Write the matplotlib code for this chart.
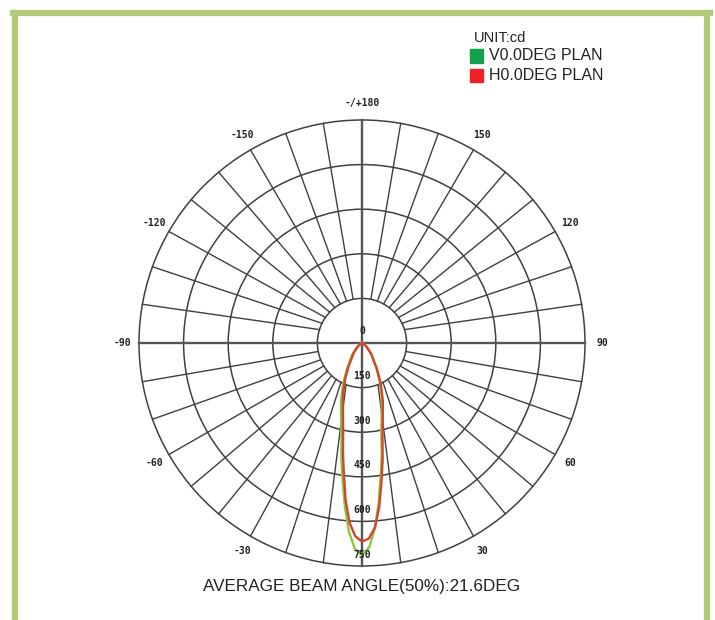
import numpy as np
import matplotlib.pyplot as plt
from matplotlib.patches import Circle, Rectangle
from matplotlib.lines import Line2D

# polar candela data, gamma measured from nadir (deg), values in cd
gamma = [0, 2, 4, 6, 8, 10, 12, 15, 20, 25, 30, 40, 50, 60, 90]
v_plan_left = [712, 692, 635, 552, 468, 398, 330, 270, 206, 150, 102, 51, 22, 8, 0]
v_plan_right = [712, 688, 625, 538, 452, 382, 312, 255, 195, 140, 96, 48, 21, 8, 0]
h_plan_left = [668, 650, 605, 530, 440, 370, 305, 248, 188, 135, 90, 43, 19, 7, 0]
h_plan_right = [668, 658, 622, 555, 470, 400, 332, 270, 205, 148, 100, 48, 21, 7, 0]

ring_values = [150, 300, 450, 600, 750]
ring_labels = ["150", "300", "450", "600", "750"]
angle_ticks = [180, -150, 150, -120, 120, -90, 90, -60, 60, -30, 30]
angle_labels = ["-/+180", "-150", "150", "-120", "120", "-90", "90", "-60", "60", "-30", "30"]
legend_names = ["V0.0DEG PLAN", "H0.0DEG PLAN"]
legend_colors = ["#12a14b", "#ec2227"]
curve_colors = ["#8dc63f", "#d4452d"]

W, H = 715, 620
CX, CY, RPX = 362, 343, 223
RMAX = ring_values[-1]
s = RPX / RMAX

fig = plt.figure(figsize=(W / 100, H / 100), dpi=100)
fig.patch.set_facecolor("white")
ax = fig.add_axes([0, 0, 1, 1])
ax.set_xlim(-CX / s, (W - CX) / s)
ax.set_ylim((CY - H) / s, CY / s)
ax.axis("off")

def fx(px):
    return px / W

def fy(py):
    return 1 - py / H

# frame
border = "#b2c979"
for xs, ys in [([15.5, 15.5], [H, 13]), ([13, 710], [13, 13]), ([707, 707], [13, H])]:
    fig.add_artist(Line2D([fx(x) for x in xs], [fy(y) for y in ys], color=border, lw=4.5))

grid = "#404040"
for r in ring_values:
    ax.add_patch(Circle((0, 0), r, fill=False, ec=grid, lw=1.1))
ax.plot([-RMAX, RMAX], [0, 0], color="#555555", lw=1.7)
ax.plot([0, 0], [-RMAX, RMAX], color="#555555", lw=1.7)

# spokes every 10 deg, bunched near the inner ring like the original
r0 = ring_values[0]
for sy in (1, -1):
    for sx in (1, -1):
        for th in range(10, 90, 10):
            if sy > 0:
                ph = 17.5 + (th - 10) * (78.5 - 17.5) / 70
            else:
                ph = 11 + 58 * ((th - 10) / 70) ** 0.85
            t, p = np.radians(th), np.radians(ph)
            ax.plot([sx * RMAX * np.cos(t), sx * r0 * np.cos(p)],
                    [sy * RMAX * np.sin(t), sy * r0 * np.sin(p)], color=grid, lw=1.0)

# curves
g = np.array(gamma, dtype=float)
full_g = np.radians(np.concatenate([-g[::-1], g[1:]]))
for left, right, col in [(v_plan_left, v_plan_right, curve_colors[0]),
                         (h_plan_left, h_plan_right, curve_colors[1])]:
    full_v = np.concatenate([np.array(left[::-1], float), np.array(right[1:], float)])
    ax.plot(full_v * np.sin(full_g), -full_v * np.cos(full_g), color=col, lw=1.7)

lab_font = dict(family="DejaVu Sans Mono", weight="bold", fontsize=7, color="#222222")
ax.text(0, 12 / s, "0", ha="center", va="center", **lab_font)
for v, lab in zip(ring_values, ring_labels):
    ax.text(0, -(v - 11.5 / s), lab, ha="center", va="center", **lab_font)
rl = 240 / s
for a, lab in zip(angle_ticks, angle_labels):
    ar = np.radians(a)
    ax.text(rl * np.sin(ar), -rl * np.cos(ar), lab, ha="center", va="center", **lab_font)

# legend
narrow = ["Liberation Sans Narrow", "Liberation Sans", "DejaVu Sans"]
fig.text(fx(474), fy(38), "UNIT:cd", family=narrow, fontsize=10.5, va="center", ha="left", color="#222222")
for i, (name, col) in enumerate(zip(legend_names, legend_colors)):
    yc = 56 + 19.5 * i
    fig.add_artist(Rectangle((fx(470), fy(yc + 6.5)), 13 / W, 13 / H, color=col, transform=fig.transFigure))
    fig.text(fx(489), fy(yc), name, family=narrow, fontsize=11.5, va="center", ha="left", color="#222222")

fig.text(fx(362), fy(586), "AVERAGE BEAM ANGLE(50%):21.6DEG", family=narrow, fontsize=12.3,
         ha="center", va="center", color="#222222")

fig.savefig("out.png", dpi=100)
